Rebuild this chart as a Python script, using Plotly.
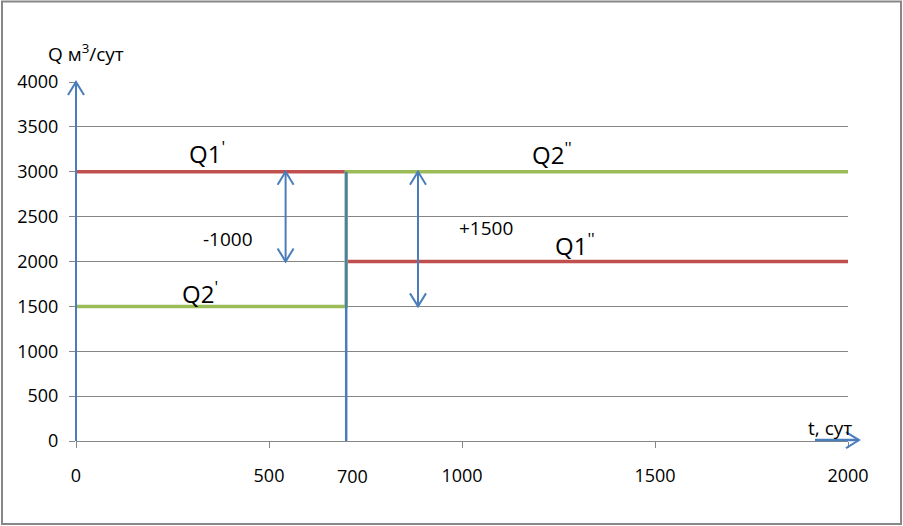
import plotly.graph_objects as go

# ---- data ----
t_start = 0
t_switch = 700
t_end = 2000

q1_before = 3000
q1_after = 2000
q2_before = 1500
q2_after = 3000

t_q1 = [t_start, t_switch, None, t_switch, t_end]
q1_vals = [q1_before, q1_before, None, q1_after, q1_after]
t_q2 = [t_start, t_switch, t_switch, t_end]
q2_vals = [q2_before, q2_before, q2_after, q2_after]

x_tick_vals = [0, 500, 1000, 1500, 2000]
x_extra_tick = 700
y_tick_vals = [0, 500, 1000, 1500, 2000, 2500, 3000, 3500, 4000]

# difference arrows
diff_arrow_t = [543, 886]
diff_arrow_from = [q1_before, q2_after]
diff_arrow_to = [q1_after, q2_before]
diff_labels = ["-1000", "+1500"]
diff_label_t = [395, 1063]
diff_label_q = [2250, 2375]

series_labels = ["Q1<sup>'</sup>", "Q2<sup>'</sup>", "Q2<sup>''</sup>", "Q1<sup>''</sup>"]
series_label_t = [340, 322, 1234, 1293]
series_label_q = [3220, 1660, 3205, 2195]

# ---- layout constants ----
W, H = 903, 526
L, R, T, B = 76, 55, 82, 85
PW, PH = W - L - R, H - T - B
X_MAX = 2000
Y_MAX = 4000

RED = "#C0504D"
GREEN = "#9BBB59"
BLUE = "#4A7EBB"
GRID = "#868686"
FONT = "Open Sans"


def px_x(p):
    return (p - L) / PW


def px_y(p):
    return (H - B - p) / PH


def tx(t):
    return t / X_MAX


def qy(q):
    return q / Y_MAX


fig = go.Figure()
fig.add_trace(go.Scatter(x=t_q1, y=q1_vals, mode="lines",
                         line=dict(color=RED, width=3.5), connectgaps=False,
                         hoverinfo="skip"))
fig.add_trace(go.Scatter(x=t_q2, y=q2_vals, mode="lines",
                         line=dict(color=GREEN, width=3.5), hoverinfo="skip"))

shapes = []
# outer border
shapes.append(dict(type="rect", xref="paper", yref="paper",
                   x0=px_x(2), x1=px_x(901), y0=px_y(524), y1=px_y(1.5),
                   line=dict(color="#878787", width=2), layer="below"))


def vline(t, q0, q1, width=2):
    shapes.append(dict(type="line", xref="paper", yref="paper",
                       x0=tx(t), x1=tx(t), y0=qy(q0), y1=qy(q1),
                       line=dict(color=BLUE, width=width)))


def head(t, q, direction):
    if direction == "up":
        path = "M -8,-13 L 0,0 L 8,-13"
    elif direction == "down":
        path = "M -8,13 L 0,0 L 8,13"
    else:
        path = "M -13,8 L 0,0 L -13,-8"
    shapes.append(dict(type="path", xref="paper", yref="paper",
                       xsizemode="pixel", ysizemode="pixel",
                       xanchor=tx(t), yanchor=qy(q), path=path,
                       line=dict(color=BLUE, width=2)))


# y-axis arrow
vline(t_start, 0, Y_MAX)
head(t_start, Y_MAX, "up")
# switch line
vline(t_switch, 0, q2_after, width=2.5)
# x-axis arrow
shapes.append(dict(type="line", xref="paper", yref="paper",
                   x0=px_x(815), x1=px_x(859), y0=qy(10), y1=qy(10),
                   line=dict(color=BLUE, width=2.5)))
head(X_MAX, 10, "right")
shapes[-1]["xanchor"] = px_x(859)

# difference arrows
for t, a, b in zip(diff_arrow_t, diff_arrow_from, diff_arrow_to):
    vline(t, a, b)
    top, bot = max(a, b), min(a, b)
    head(t, top, "up")
    head(t, bot, "down")

annotations = []
for txt, t, q in zip(series_labels, series_label_t, series_label_q):
    annotations.append(dict(text=txt, x=t, y=q, xref="x", yref="y",
                            xanchor="center", yanchor="middle",
                            showarrow=False, font=dict(size=24, color="black", family=FONT)))
for txt, t, q in zip(diff_labels, diff_label_t, diff_label_q):
    annotations.append(dict(text=txt, x=t, y=q, xref="x", yref="y",
                            xanchor="center", yanchor="middle",
                            showarrow=False, font=dict(size=19, color="black", family=FONT)))

annotations.append(dict(text=str(x_extra_tick), x=tx(x_extra_tick), y=px_y(476),
                        xref="paper", yref="paper", xshift=6, showarrow=False,
                        xanchor="center", yanchor="middle",
                        font=dict(size=18, color="black", family=FONT)))
annotations.append(dict(text="Q м<sup>3</sup>/сут", x=px_x(46), y=px_y(53),
                        xref="paper", yref="paper", xanchor="left", yanchor="middle",
                        showarrow=False,
                        font=dict(size=19, color="black", family=FONT)))
annotations.append(dict(text="t, сут", x=px_x(830), y=px_y(428),
                        xref="paper", yref="paper", xanchor="center", yanchor="middle",
                        showarrow=False,
                        font=dict(size=19, color="black", family=FONT)))

fig.update_layout(
    width=W, height=H,
    margin=dict(l=L, r=R, t=T, b=B, autoexpand=False),
    paper_bgcolor="white", plot_bgcolor="white",
    showlegend=False,
    font=dict(family=FONT, size=18, color="black"),
    shapes=shapes, annotations=annotations,
    xaxis=dict(range=[0, X_MAX], tickvals=x_tick_vals, ticks="outside", ticklen=6,
               tickcolor=GRID, showgrid=False, zeroline=False, showline=True,
               linecolor=GRID, linewidth=1, ticklabelstandoff=12, automargin=False,
               tickfont=dict(size=18, color="black", family=FONT)),
    yaxis=dict(range=[0, Y_MAX], tickvals=y_tick_vals, ticks="outside", ticklen=6,
               tickcolor=GRID, showgrid=True, gridcolor=GRID, gridwidth=1,
               zeroline=False, showline=False, ticklabelstandoff=7, automargin=False,
               tickfont=dict(size=18, color="black", family=FONT)),
)

fig.write_html("out.html", config={"displayModeBar": False},
               post_script="document.body.style.margin='0';document.body.style.overflow='hidden';")
